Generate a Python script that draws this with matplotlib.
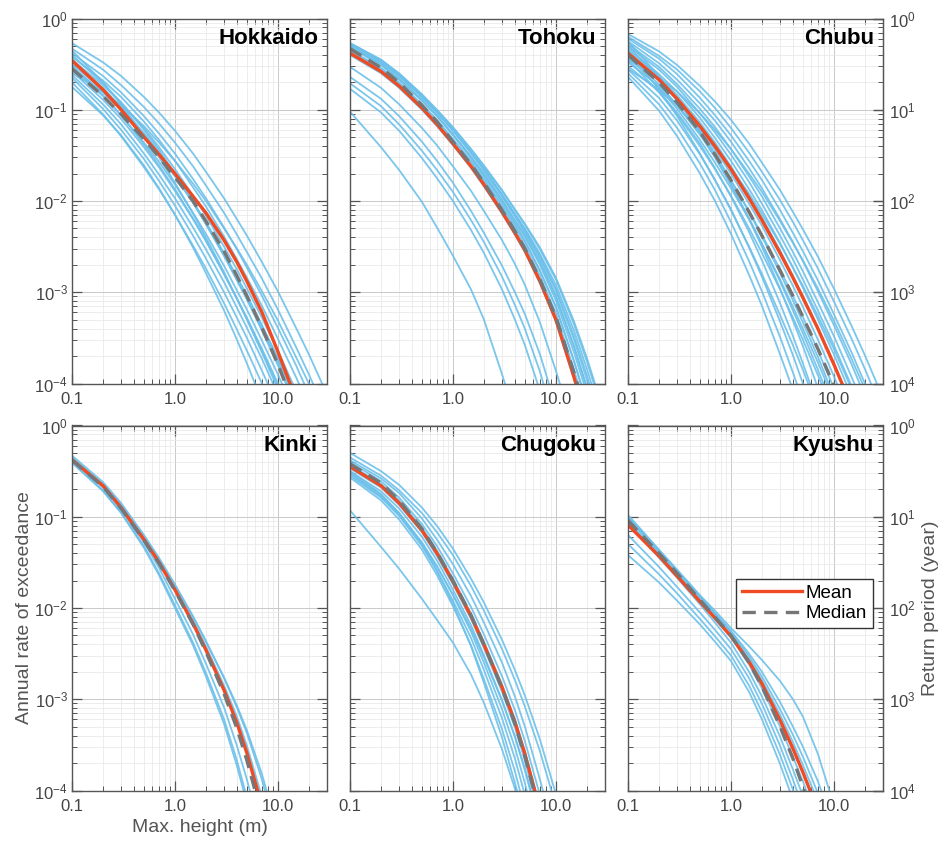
import numpy as np
import matplotlib.pyplot as plt
from matplotlib.ticker import FixedLocator, FixedFormatter, LogLocator, LogFormatterMathtext, NullLocator
from matplotlib.lines import Line2D

plt.rcParams["font.family"] = ["Liberation Sans", "DejaVu Sans"]

HEIGHT_M = [0.1, 0.2, 0.3, 0.5, 0.7, 1.0, 1.5, 2.0, 3.0, 4.0, 5.0, 7.0, 10.0, 15.0, 20.0, 30.0]

# every curve below: log10 of annual rate of exceedance at HEIGHT_M
HOKKAIDO_CURVES = [
    [-0.27, -0.48, -0.63, -0.86, -1.03, -1.23, -1.48, -1.68, -1.97, -2.20, -2.38, -2.67, -2.99, -3.39, -3.68, -4.12],
    [-0.33, -0.56, -0.73, -0.97, -1.15, -1.36, -1.62, -1.83, -2.13, -2.37, -2.56, -2.85, -3.19, -3.60, -3.90, -4.35],
    [-0.38, -0.63, -0.81, -1.07, -1.26, -1.48, -1.76, -1.97, -2.29, -2.53, -2.73, -3.04, -3.39, -3.80, -4.12, -4.58],
    [-0.42, -0.68, -0.86, -1.13, -1.33, -1.56, -1.85, -2.06, -2.39, -2.64, -2.84, -3.15, -3.51, -3.93, -4.25, -4.71],
    [-0.45, -0.73, -0.92, -1.20, -1.41, -1.65, -1.94, -2.16, -2.50, -2.75, -2.96, -3.28, -3.64, -4.08, -4.40, -4.88],
    [-0.50, -0.78, -0.98, -1.26, -1.47, -1.71, -2.01, -2.23, -2.57, -2.83, -3.03, -3.36, -3.72, -4.16, -4.48, -4.96],
    [-0.55, -0.85, -1.06, -1.36, -1.57, -1.82, -2.13, -2.36, -2.71, -2.98, -3.19, -3.53, -3.90, -4.35, -4.68, -5.17],
    [-0.58, -0.89, -1.10, -1.41, -1.63, -1.89, -2.20, -2.44, -2.80, -3.07, -3.28, -3.62, -4.00, -4.45, -4.79, -5.29],
    [-0.62, -0.94, -1.16, -1.48, -1.71, -1.97, -2.29, -2.53, -2.89, -3.17, -3.39, -3.73, -4.12, -4.58, -4.92, -5.42],
    [-0.65, -0.99, -1.22, -1.54, -1.78, -2.05, -2.38, -2.63, -3.00, -3.28, -3.50, -3.86, -4.25, -4.72, -5.07, -5.58],
    [-0.70, -1.05, -1.29, -1.63, -1.87, -2.15, -2.49, -2.74, -3.12, -3.41, -3.64, -4.00, -4.40, -4.88, -5.23, -5.76],
    [-0.75, -1.06, -1.28, -1.61, -1.86, -2.15, -2.51, -2.79, -3.20, -3.52, -3.78, -4.19, -4.64, -5.19, -5.61, -6.22],
    [-0.40, -0.71, -0.92, -1.22, -1.44, -1.70, -2.01, -2.25, -2.60, -2.87, -3.08, -3.42, -3.80, -4.25, -4.59, -5.08],
    [-0.60, -0.80, -0.95, -1.18, -1.36, -1.56, -1.81, -2.00, -2.30, -2.52, -2.70, -2.99, -3.31, -3.71, -4.00, -4.43],
    [-0.35, -0.70, -0.94, -1.28, -1.52, -1.80, -2.14, -2.40, -2.78, -3.07, -3.30, -3.66, -4.06, -4.54, -4.89, -5.42],
    [-0.47, -0.76, -0.97, -1.26, -1.47, -1.72, -2.02, -2.25, -2.60, -2.86, -3.07, -3.40, -3.77, -4.21, -4.54, -5.03],
    [-0.52, -0.84, -1.06, -1.38, -1.61, -1.87, -2.19, -2.43, -2.80, -3.07, -3.29, -3.64, -4.02, -4.48, -4.82, -5.33],
    [-0.53, -0.81, -1.00, -1.28, -1.49, -1.73, -2.02, -2.25, -2.59, -2.84, -3.04, -3.37, -3.73, -4.17, -4.49, -4.97],
]
HOKKAIDO_MEAN = [-0.46, -0.78, -1.00, -1.30, -1.49, -1.70, -1.95, -2.13, -2.43, -2.67, -2.88, -3.22, -3.65, -4.17, -4.58, -5.20]
HOKKAIDO_MEDIAN = [-0.55, -0.85, -1.05, -1.32, -1.52, -1.74, -2.00, -2.22, -2.55, -2.82, -3.04, -3.39, -3.79, -4.30, -4.69, -5.30]

TOHOKU_CURVES = [
    [-0.27, -0.45, -0.60, -0.83, -1.00, -1.19, -1.43, -1.61, -1.88, -2.09, -2.25, -2.51, -2.84, -3.32, -3.72, -4.35],
    [-0.30, -0.48, -0.63, -0.86, -1.03, -1.23, -1.47, -1.65, -1.93, -2.14, -2.30, -2.58, -2.92, -3.42, -3.84, -4.48],
    [-0.28, -0.47, -0.63, -0.86, -1.03, -1.22, -1.47, -1.65, -1.93, -2.15, -2.32, -2.60, -2.96, -3.48, -3.91, -4.57],
    [-0.32, -0.51, -0.67, -0.90, -1.07, -1.27, -1.52, -1.70, -1.99, -2.21, -2.38, -2.68, -3.05, -3.59, -4.04, -4.71],
    [-0.31, -0.50, -0.66, -0.89, -1.06, -1.27, -1.51, -1.71, -1.99, -2.22, -2.39, -2.70, -3.09, -3.66, -4.11, -4.81],
    [-0.35, -0.54, -0.70, -0.94, -1.11, -1.32, -1.56, -1.76, -2.05, -2.27, -2.45, -2.77, -3.16, -3.75, -4.21, -4.92],
    [-0.31, -0.50, -0.66, -0.90, -1.07, -1.28, -1.53, -1.73, -2.02, -2.25, -2.43, -2.76, -3.16, -3.76, -4.23, -4.95],
    [-0.27, -0.46, -0.62, -0.85, -1.02, -1.22, -1.47, -1.65, -1.94, -2.15, -2.33, -2.62, -2.98, -3.52, -3.96, -4.63],
    [-0.35, -0.55, -0.71, -0.95, -1.12, -1.33, -1.58, -1.78, -2.08, -2.30, -2.49, -2.82, -3.23, -3.85, -4.33, -5.06],
    [-0.27, -0.46, -0.62, -0.85, -1.02, -1.23, -1.47, -1.67, -1.95, -2.17, -2.35, -2.65, -3.03, -3.60, -4.05, -4.74],
    [-0.28, -0.46, -0.61, -0.84, -1.01, -1.20, -1.44, -1.62, -1.89, -2.10, -2.26, -2.53, -2.86, -3.35, -3.76, -4.39],
    [-0.40, -0.60, -0.76, -1.00, -1.18, -1.39, -1.64, -1.84, -2.14, -2.37, -2.56, -2.90, -3.32, -3.95, -4.44, -5.18],
    [-0.53, -0.76, -0.94, -1.20, -1.39, -1.62, -1.89, -2.11, -2.43, -2.69, -2.92, -3.33, -3.86, -4.51, -4.98, -5.70],
    [-0.64, -0.88, -1.07, -1.35, -1.56, -1.80, -2.11, -2.35, -2.71, -3.00, -3.24, -3.68, -4.25, -4.99, -5.50, -6.30],
    [-0.71, -0.96, -1.16, -1.45, -1.66, -1.90, -2.21, -2.45, -2.83, -3.14, -3.40, -3.87, -4.47, -5.25, -5.80, -6.60],
    [-0.77, -1.03, -1.23, -1.53, -1.75, -2.00, -2.32, -2.57, -2.97, -3.30, -3.58, -4.08, -4.70, -5.50, -6.10, -6.90],
    [-1.02, -1.41, -1.66, -2.01, -2.29, -2.60, -2.97, -3.30, -3.90, -4.35, -4.70, -5.30, -5.90, -6.50, -7.00, -7.60],
]
TOHOKU_MEAN = [-0.38, -0.58, -0.74, -0.98, -1.16, -1.37, -1.62, -1.82, -2.12, -2.35, -2.54, -2.88, -3.30, -3.93, -4.42, -5.16]
TOHOKU_MEDIAN = [-0.33, -0.54, -0.70, -0.95, -1.13, -1.35, -1.60, -1.80, -2.10, -2.33, -2.52, -2.86, -3.27, -3.88, -4.36, -5.10]

CHUBU_CURVES = [
    [-0.17, -0.36, -0.51, -0.74, -0.91, -1.11, -1.37, -1.58, -1.88, -2.12, -2.31, -2.61, -2.96, -3.38, -3.69, -4.16],
    [-0.20, -0.41, -0.56, -0.80, -0.98, -1.20, -1.47, -1.68, -1.99, -2.23, -2.43, -2.74, -3.10, -3.52, -3.84, -4.32],
    [-0.22, -0.44, -0.61, -0.87, -1.06, -1.28, -1.56, -1.77, -2.10, -2.35, -2.55, -2.87, -3.24, -3.67, -4.00, -4.49],
    [-0.25, -0.49, -0.67, -0.93, -1.12, -1.35, -1.64, -1.86, -2.20, -2.45, -2.66, -2.99, -3.36, -3.80, -4.14, -4.63],
    [-0.28, -0.53, -0.72, -0.99, -1.19, -1.43, -1.73, -1.95, -2.30, -2.56, -2.77, -3.11, -3.48, -3.94, -4.28, -4.78],
    [-0.30, -0.56, -0.75, -1.04, -1.25, -1.49, -1.79, -2.03, -2.38, -2.64, -2.86, -3.20, -3.58, -4.04, -4.39, -4.90],
    [-0.33, -0.61, -0.80, -1.09, -1.31, -1.56, -1.87, -2.10, -2.46, -2.73, -2.95, -3.30, -3.68, -4.15, -4.50, -5.02],
    [-0.35, -0.64, -0.84, -1.14, -1.36, -1.62, -1.94, -2.18, -2.54, -2.82, -3.04, -3.39, -3.79, -4.26, -4.62, -5.14],
    [-0.38, -0.68, -0.90, -1.21, -1.44, -1.70, -2.03, -2.27, -2.65, -2.93, -3.16, -3.52, -3.92, -4.40, -4.77, -5.30],
    [-0.40, -0.72, -0.95, -1.27, -1.51, -1.78, -2.11, -2.37, -2.75, -3.04, -3.27, -3.64, -4.05, -4.55, -4.92, -5.46],
    [-0.42, -0.76, -0.99, -1.33, -1.58, -1.86, -2.20, -2.47, -2.86, -3.16, -3.40, -3.77, -4.19, -4.70, -5.07, -5.63],
    [-0.45, -0.81, -1.05, -1.40, -1.65, -1.94, -2.30, -2.57, -2.97, -3.28, -3.52, -3.91, -4.34, -4.85, -5.23, -5.80],
    [-0.48, -0.74, -0.95, -1.27, -1.52, -1.82, -2.20, -2.50, -2.96, -3.31, -3.59, -4.05, -4.57, -5.19, -5.67, -6.37],
    [-0.52, -0.80, -1.03, -1.37, -1.64, -1.95, -2.34, -2.65, -3.12, -3.48, -3.78, -4.24, -4.77, -5.42, -5.90, -6.62],
    [-0.56, -0.87, -1.12, -1.49, -1.77, -2.09, -2.51, -2.83, -3.32, -3.69, -4.00, -4.48, -5.03, -5.69, -6.19, -6.92],
    [-0.60, -0.94, -1.20, -1.59, -1.88, -2.23, -2.66, -2.99, -3.49, -3.88, -4.19, -4.69, -5.25, -5.93, -6.43, -7.19],
    [-0.64, -1.01, -1.29, -1.70, -2.00, -2.36, -2.81, -3.15, -3.68, -4.07, -4.40, -4.91, -5.48, -6.18, -6.70, -7.46],
    [-0.25, -0.63, -0.89, -1.25, -1.52, -1.82, -2.19, -2.47, -2.88, -3.20, -3.45, -3.85, -4.29, -4.81, -5.21, -5.78],
    [-0.55, -0.78, -0.96, -1.22, -1.41, -1.64, -1.92, -2.14, -2.47, -2.73, -2.93, -3.26, -3.62, -4.07, -4.40, -4.89],
    [-0.35, -0.78, -1.07, -1.48, -1.77, -2.10, -2.50, -2.80, -3.25, -3.58, -3.85, -4.28, -4.75, -5.31, -5.72, -6.33],
    [-0.45, -0.65, -0.80, -1.04, -1.22, -1.43, -1.70, -1.90, -2.22, -2.46, -2.65, -2.96, -3.31, -3.74, -4.06, -4.53],
    [-0.30, -0.65, -0.89, -1.23, -1.48, -1.77, -2.12, -2.39, -2.79, -3.09, -3.33, -3.71, -4.14, -4.65, -5.03, -5.59],
]
CHUBU_MEAN = [-0.38, -0.67, -0.88, -1.18, -1.40, -1.65, -1.97, -2.21, -2.57, -2.84, -3.06, -3.40, -3.79, -4.26, -4.61, -5.12]
CHUBU_MEDIAN = [-0.40, -0.70, -0.92, -1.24, -1.49, -1.77, -2.12, -2.38, -2.76, -3.04, -3.27, -3.62, -4.02, -4.50, -4.86, -5.38]

KINKI_CURVES = [
    [-0.40, -0.71, -0.95, -1.32, -1.62, -1.97, -2.38, -2.71, -3.22, -3.67, -4.08, -4.75, -5.50, -6.30, -6.90, -7.70],
    [-0.38, -0.68, -0.92, -1.28, -1.56, -1.90, -2.29, -2.61, -3.09, -3.51, -3.88, -4.50, -5.25, -6.10, -6.70, -7.50],
    [-0.33, -0.62, -0.85, -1.20, -1.45, -1.74, -2.09, -2.36, -2.77, -3.09, -3.37, -3.88, -4.55, -5.40, -6.00, -6.80],
    [-0.35, -0.64, -0.87, -1.22, -1.47, -1.76, -2.10, -2.37, -2.76, -3.07, -3.34, -3.82, -4.45, -5.30, -5.90, -6.60],
    [-0.36, -0.65, -0.88, -1.23, -1.48, -1.78, -2.14, -2.42, -2.85, -3.19, -3.51, -4.07, -4.75, -5.60, -6.20, -7.00],
    [-0.41, -0.72, -0.96, -1.34, -1.64, -2.00, -2.41, -2.75, -3.27, -3.73, -4.14, -4.82, -5.60, -6.40, -7.00, -7.80],
]
KINKI_MEAN = [-0.375, -0.66, -0.90, -1.25, -1.50, -1.80, -2.17, -2.46, -2.90, -3.26, -3.59, -4.17, -4.87, -5.70, -6.30, -7.10]
KINKI_MEDIAN = [-0.38, -0.67, -0.91, -1.26, -1.51, -1.81, -2.18, -2.48, -2.94, -3.32, -3.67, -4.28, -5.00, -5.80, -6.40, -7.20]

CHUGOKU_CURVES = [
    [-0.30, -0.50, -0.65, -0.90, -1.10, -1.35, -1.68, -1.94, -2.35, -2.68, -2.96, -3.44, -4.04, -4.80, -5.30, -6.00],
    [-0.35, -0.55, -0.71, -0.96, -1.17, -1.42, -1.76, -2.03, -2.45, -2.79, -3.08, -3.57, -4.17, -4.95, -5.45, -6.10],
    [-0.40, -0.61, -0.79, -1.08, -1.32, -1.62, -1.99, -2.29, -2.75, -3.12, -3.46, -4.05, -4.74, -5.55, -6.15, -6.85],
    [-0.43, -0.64, -0.82, -1.12, -1.37, -1.68, -2.06, -2.37, -2.84, -3.22, -3.57, -4.18, -4.88, -5.65, -6.25, -6.95],
    [-0.47, -0.68, -0.87, -1.17, -1.43, -1.74, -2.12, -2.44, -2.92, -3.31, -3.67, -4.29, -5.00, -5.80, -6.40, -7.10],
    [-0.50, -0.72, -0.91, -1.22, -1.48, -1.80, -2.19, -2.52, -3.01, -3.41, -3.78, -4.41, -5.12, -5.90, -6.50, -7.20],
    [-0.52, -0.76, -0.96, -1.28, -1.54, -1.86, -2.26, -2.60, -3.11, -3.53, -3.92, -4.58, -5.30, -6.10, -6.70, -7.40],
    [-0.55, -0.79, -0.99, -1.32, -1.59, -1.92, -2.33, -2.68, -3.21, -3.65, -4.05, -4.72, -5.45, -6.30, -6.90, -7.60],
    [-0.57, -0.82, -1.03, -1.36, -1.64, -1.98, -2.41, -2.78, -3.33, -3.79, -4.21, -4.90, -5.65, -6.50, -7.10, -7.80],
    [-0.53, -0.78, -0.98, -1.30, -1.55, -1.85, -2.23, -2.54, -3.02, -3.41, -3.76, -4.37, -5.05, -5.85, -6.45, -7.15],
    [-0.93, -1.33, -1.57, -1.90, -2.13, -2.38, -2.73, -3.04, -3.55, -3.98, -4.35, -4.95, -5.60, -6.40, -7.00, -7.70],
    [-0.45, -0.66, -0.84, -1.14, -1.39, -1.70, -2.08, -2.39, -2.86, -3.24, -3.59, -4.20, -4.90, -5.70, -6.30, -7.00],
    [-0.38, -0.58, -0.74, -1.02, -1.25, -1.52, -1.87, -2.16, -2.60, -2.97, -3.30, -3.88, -4.55, -5.35, -5.95, -6.65],
    [-0.50, -0.75, -0.96, -1.30, -1.60, -1.95, -2.42, -2.82, -3.42, -3.92, -4.30, -4.98, -5.70, -6.60, -7.20, -7.90],
]
CHUGOKU_MEAN = [-0.45, -0.66, -0.85, -1.15, -1.40, -1.71, -2.09, -2.40, -2.87, -3.25, -3.60, -4.21, -4.92, -5.70, -6.30, -7.00]
CHUGOKU_MEDIAN = [-0.42, -0.63, -0.82, -1.13, -1.39, -1.70, -2.08, -2.40, -2.88, -3.27, -3.63, -4.25, -4.97, -5.75, -6.35, -7.05]

KYUSHU_CURVES = [
    [-0.98, -1.36, -1.58, -1.86, -2.03, -2.22, -2.42, -2.57, -2.80, -3.00, -3.19, -3.60, -4.16, -4.90, -5.40, -6.10],
    [-1.00, -1.38, -1.60, -1.88, -2.06, -2.25, -2.50, -2.70, -3.03, -3.30, -3.52, -3.90, -4.40, -5.10, -5.60, -6.30],
    [-1.02, -1.40, -1.62, -1.90, -2.08, -2.28, -2.56, -2.79, -3.17, -3.47, -3.72, -4.12, -4.62, -5.30, -5.80, -6.40],
    [-1.05, -1.42, -1.64, -1.92, -2.11, -2.32, -2.62, -2.88, -3.30, -3.63, -3.90, -4.33, -4.85, -5.50, -6.00, -6.60],
    [-1.07, -1.45, -1.67, -1.96, -2.16, -2.38, -2.70, -2.97, -3.41, -3.77, -4.06, -4.52, -5.05, -5.70, -6.20, -6.80],
    [-1.20, -1.55, -1.77, -2.05, -2.24, -2.45, -2.77, -3.05, -3.51, -3.88, -4.19, -4.66, -5.20, -5.90, -6.40, -7.00],
    [-1.30, -1.63, -1.84, -2.12, -2.31, -2.52, -2.85, -3.14, -3.61, -3.99, -4.30, -4.80, -5.35, -6.00, -6.50, -7.10],
    [-1.42, -1.72, -1.92, -2.18, -2.37, -2.58, -2.92, -3.22, -3.71, -4.10, -4.42, -4.93, -5.50, -6.20, -6.70, -7.30],
    [-1.00, -1.37, -1.59, -1.87, -2.06, -2.26, -2.53, -2.75, -3.11, -3.39, -3.63, -4.03, -4.52, -5.20, -5.70, -6.30],
]
KYUSHU_MEAN = [-1.09, -1.43, -1.65, -1.93, -2.11, -2.31, -2.59, -2.83, -3.23, -3.54, -3.80, -4.22, -4.72, -5.35, -5.80, -6.40]
KYUSHU_MEDIAN = [-1.04, -1.40, -1.62, -1.91, -2.10, -2.30, -2.60, -2.86, -3.30, -3.65, -3.96, -4.45, -5.00, -5.70, -6.20, -6.80]

REGIONS = ["Hokkaido", "Tohoku", "Chubu", "Kinki", "Chugoku", "Kyushu"]
REGION_CURVES = [HOKKAIDO_CURVES, TOHOKU_CURVES, CHUBU_CURVES,
                 KINKI_CURVES, CHUGOKU_CURVES, KYUSHU_CURVES]
REGION_MEAN = [HOKKAIDO_MEAN, TOHOKU_MEAN, CHUBU_MEAN,
               KINKI_MEAN, CHUGOKU_MEAN, KYUSHU_MEAN]
REGION_MEDIAN = [HOKKAIDO_MEDIAN, TOHOKU_MEDIAN, CHUBU_MEDIAN,
                 KINKI_MEDIAN, CHUGOKU_MEDIAN, KYUSHU_MEDIAN]

BLUE = "#6cc0ea"
RED = "#f04a23"
GRAY = "#767676"
TEXT = "#444444"
DASH = (0, (4, 2.5))


def inv(v):
    v = np.asarray(v, dtype=float)
    with np.errstate(divide="ignore"):
        return 1.0 / v


def style_axes(ax, col, row):
    ax.set_xscale("log")
    ax.set_yscale("log")
    ax.set_xlim(0.1, 30)
    ax.set_ylim(1e-4, 1)

    ax.xaxis.set_major_locator(FixedLocator([0.1, 1.0, 10.0]))
    ax.xaxis.set_major_formatter(FixedFormatter(["0.1", "1.0", "10.0"]))
    ax.xaxis.set_minor_locator(LogLocator(base=10, subs=range(2, 10)))
    ax.yaxis.set_major_locator(FixedLocator([1e-4, 1e-3, 1e-2, 1e-1, 1]))
    ax.yaxis.set_major_formatter(LogFormatterMathtext())
    ax.yaxis.set_minor_locator(LogLocator(base=10, subs=range(2, 10), numticks=20))

    ax.tick_params(which="both", direction="in", top=True, right=True,
                   color="#555555", labelcolor=TEXT, labelsize=12)
    ax.tick_params(which="major", length=7, width=0.9)
    ax.tick_params(which="minor", length=3.5, width=0.7)
    ax.tick_params(axis="x", pad=6)
    ax.tick_params(axis="y", pad=3)
    if col != 0:
        ax.tick_params(labelleft=False)

    ax.grid(which="major", color="#c9c9c9", lw=0.7)
    ax.grid(which="minor", color="#e6e6e6", lw=0.5)
    ax.set_axisbelow(True)
    for s in ax.spines.values():
        s.set_color("#555555")
        s.set_linewidth(1.0)

    if col == 2:
        # return period axis on the right (1 / rate)
        sec = ax.secondary_yaxis("right", functions=(inv, inv))
        sec.yaxis.set_major_locator(FixedLocator([1, 10, 100, 1000, 10000]))
        sec.yaxis.set_major_formatter(LogFormatterMathtext())
        sec.yaxis.set_minor_locator(NullLocator())
        sec.tick_params(direction="in", length=7, width=0.9, color="#555555",
                        labelcolor=TEXT, labelsize=12, pad=4)
        sec.spines["right"].set_color("#555555")
        if row == 1:
            sec.set_ylabel("Return period (year)", fontsize=14, color="#555555",
                           labelpad=5)


fig = plt.figure(figsize=(9.52, 8.41), dpi=100)
W, H = 952.0, 841.0
col_left = [72, 350, 628]
row_top = [18.5, 425.5]
ax_w, ax_h = 255, 365

for i, name in enumerate(REGIONS):
    row, col = divmod(i, 3)
    ax = fig.add_axes([col_left[col] / W, 1 - (row_top[row] + ax_h) / H,
                       ax_w / W, ax_h / H])
    style_axes(ax, col, row)

    for curve in REGION_CURVES[i]:
        ax.plot(HEIGHT_M, 10.0 ** np.array(curve), color=BLUE, lw=1.3, alpha=0.9)
    ax.plot(HEIGHT_M, 10.0 ** np.array(REGION_MEAN[i]), color=RED, lw=2.4)
    ax.plot(HEIGHT_M, 10.0 ** np.array(REGION_MEDIAN[i]), color=GRAY, lw=2.4, ls=DASH)

    ax.text(0.965, 0.975, name, transform=ax.transAxes, ha="right", va="top",
            fontsize=16, fontweight="bold", color="black")

    if row == 1 and col == 0:
        ax.set_ylabel("Annual rate of exceedance", fontsize=14, color="#555555",
                      labelpad=1)
        ax.set_xlabel("Max. height (m)", fontsize=14, color="#555555", labelpad=4)

    if row == 1 and col == 2:
        handles = [Line2D([], [], color=RED, lw=2.4),
                   Line2D([], [], color=GRAY, lw=2.4, ls=DASH)]
        leg = ax.legend(handles, ["Mean", "Median"], loc="upper right",
                        bbox_to_anchor=(0.96, 0.58), fontsize=13.5,
                        handlelength=3.2, handletextpad=0.2, borderpad=0.3,
                        labelspacing=0.2, fancybox=False, framealpha=1,
                        borderaxespad=0)
        leg.get_frame().set_edgecolor("#333333")
        leg.get_frame().set_linewidth(1.0)

fig.savefig("out.png", dpi=100)
